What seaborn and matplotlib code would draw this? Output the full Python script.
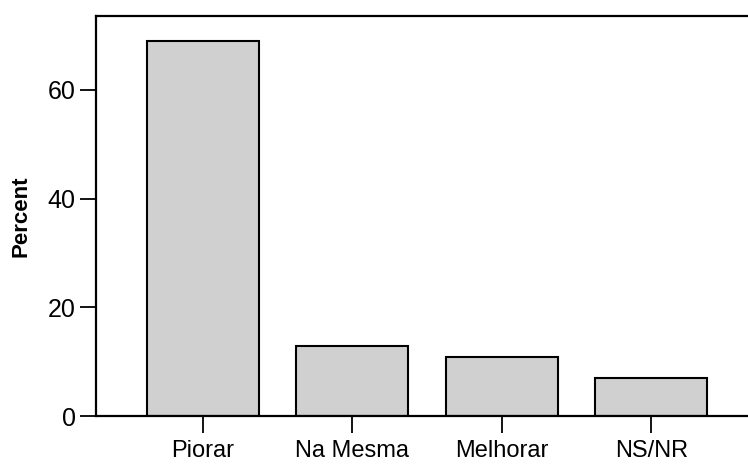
import matplotlib
matplotlib.use("Agg")
import matplotlib.pyplot as plt
import seaborn as sns
import pandas as pd

categories = ["Piorar", "Na Mesma", "Melhorar", "NS/NR"]
percent = [69.0, 12.9, 10.9, 7.0]
y_ticks = [0, 20, 40, 60]

sns.set_style("ticks")
plt.rcParams["font.family"] = ["Liberation Sans", "DejaVu Sans"]
plt.rcParams["text.color"] = "black"
plt.rcParams["axes.labelcolor"] = "black"
plt.rcParams["xtick.color"] = "black"
plt.rcParams["ytick.color"] = "black"

df = pd.DataFrame({"cat": categories, "pct": percent})

fig = plt.figure(figsize=(7.48, 4.68), dpi=100)
ax = fig.add_axes([96/748, 52/468, 662/748, 400/468])

sns.barplot(data=df, x="cat", y="pct", order=categories, ax=ax,
            color="#d0d0d0", edgecolor="black", linewidth=1.5,
            width=0.75, saturation=1)

ax.set_xlim(-0.714, 3.714)
ax.set_ylim(0, 73.6)
ax.set_yticks(y_ticks)
ax.set_xlabel("")
ax.set_ylabel("Percent", fontsize=16, fontweight="bold", labelpad=12, color="black")

for s in ["left", "bottom", "top"]:
    ax.spines[s].set_visible(True)
    ax.spines[s].set_linewidth(1.6)
    ax.spines[s].set_color("black")
ax.spines["right"].set_visible(False)

ax.tick_params(axis="y", length=11.5, width=1.3, pad=3, labelsize=18,
               color="black", labelcolor="black")
ax.tick_params(axis="x", length=12, width=1.3, pad=5, labelsize=17,
               color="black", labelcolor="black")
ax.grid(False)

fig.savefig("out.png", dpi=100)
